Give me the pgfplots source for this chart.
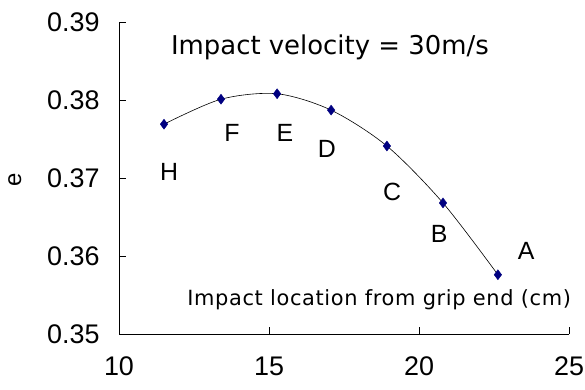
\documentclass[border=0pt]{standalone}
\usepackage{fontspec}
\setmainfont{Liberation Sans}
\newfontfamily\dejavu{DejaVu Sans}
\newfontfamily\dejavuwide[LetterSpace=3]{DejaVu Sans}
\usepackage{pgfplots}
\pgfplotsset{compat=1.18}
\definecolor{navyblue}{RGB}{0,0,128}
\begin{document}
\begin{tikzpicture}[x=1bp,y=1bp]
\path[use as bounding box] (0,0) rectangle (585,389);
\begin{axis}[
  at={(119bp,55bp)}, anchor=south west,
  scale only axis, width=450bp, height=312bp,
  xmin=10, xmax=25, ymin=0.35, ymax=0.39,
  axis lines*=left,
  axis line style={black, line width=0.8pt},
  xtick={10,15,20,25},
  ytick={0.35,0.36,0.37,0.38,0.39},
  tick align=inside,
  major tick length=7bp,
  tick style={black, line width=0.8pt},
  /pgf/number format/assume math mode=true,
  /pgf/number format/fixed,
  /pgf/number format/precision=2,
  /pgf/number format/fixed zerofill,
  yticklabel style={font=\fontsize{27}{30}\selectfont, xshift=-16bp},
  xticklabel style={font=\fontsize{27}{30}\selectfont, yshift=-19bp, /pgf/number format/fixed zerofill=false, /pgf/number format/precision=0},
  clip=false,
]
\addplot[black, line width=0.6pt, smooth, tension=0.5, mark=none] coordinates {
 (11.5,0.3769) (13.4,0.3801) (15.27,0.3808) (17.07,0.3787) (18.93,0.3741) (20.8,0.3668) (22.63,0.3576)
};
\addplot[only marks, mark=diamond*, mark size=5bp, draw=navyblue, fill=navyblue] coordinates {
 (11.5,0.3769) (13.4,0.3801) (15.27,0.3808) (17.07,0.3787) (18.93,0.3741) (20.8,0.3668) (22.63,0.3576)
};
\begin{scope}[every node/.style={font=\fontsize{25}{27}\selectfont}]
\node at (axis cs:11.67,0.37077) {H};
\node at (axis cs:13.77,0.37577) {F};
\node at (axis cs:15.53,0.37577) {E};
\node at (axis cs:16.93,0.37372) {D};
\node at (axis cs:19.1,0.36821) {C};
\node at (axis cs:20.67,0.36282) {B};
\node at (axis cs:23.57,0.36064) {A};
\end{scope}
\node[anchor=west, inner sep=0pt, font=\dejavu\fontsize{26}{28}\selectfont] at (axis cs:11.73,0.3868) {Impact velocity = 30m/s};
\node[anchor=east, inner sep=0pt, font=\dejavuwide\fontsize{21}{23}\selectfont] at (axis cs:25.07,0.35436) {Impact location from grip end (cm)};
\node[rotate=90, font=\fontsize{24}{26}\selectfont] at (axis cs:6.53,0.36974) {e};
\end{axis}
\end{tikzpicture}
\end{document}
